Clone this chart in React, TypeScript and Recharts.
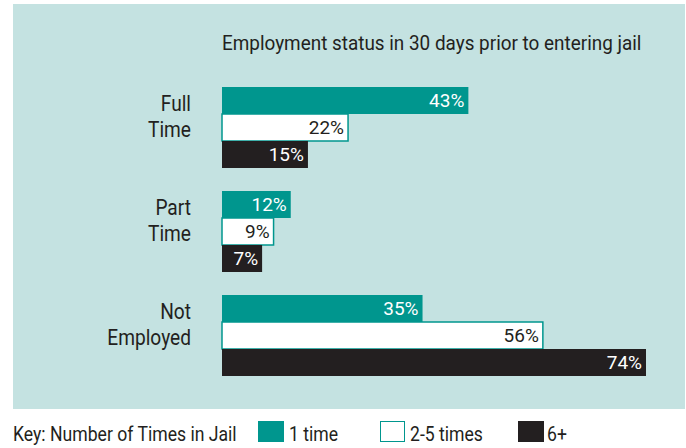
import React from "react";
import { BarChart, Bar, XAxis, YAxis, LabelList } from "recharts";

const categories = ["Full Time", "Part Time", "Not Employed"];
const oneTime = [43, 12, 35];
const twoToFive = [22, 9, 56];
const sixPlus = [15, 7, 74];
const seriesNames = ["1 time", "2-5 times", "6+"];
const title = "Employment status in 30 days prior to entering jail";
const keyLabel = "Key: Number of Times in Jail";

const TEAL = "#00968e";
const BLACK = "#231f20";
const BG = "#c4e2e1";
const TEXT = "#231f20";
const FONT = "'Liberation Sans Narrow', 'Arial Narrow', 'Roboto', sans-serif";

const data = categories.map((c, i) => ({
  name: c,
  a: oneTime[i],
  b: twoToFive[i],
  c: sixPlus[i],
}));

const CatTick = (props: any) => {
  const { x, y, payload } = props;
  const words = String(payload.value).split(" ");
  return (
    <text
      x={x}
      y={y - 16}
      textAnchor="end"
      fill={TEXT}
      transform={`translate(${x},0) scale(0.87,1) translate(${-x},0)`}
      style={{ fontFamily: FONT, fontSize: 22 }}
    >
      {words.map((w, i) => (
        <tspan key={i} x={x} dy={i === 0 ? 0 : 26}>
          {w}
        </tspan>
      ))}
    </text>
  );
};

const legendSwatch = [
  { left: 258, w: 26, bg: TEAL, border: "none", textLeft: 289 },
  { left: 380, w: 25, bg: "#fff", border: `1.5px solid ${TEAL}`, textLeft: 410 },
  { left: 518, w: 26, bg: BLACK, border: "none", textLeft: 547 },
];

const textStyle: React.CSSProperties = {
  position: "absolute",
  fontFamily: FONT,
  fontSize: 20,
  lineHeight: "20px",
  color: TEXT,
  whiteSpace: "nowrap",
  transform: "scaleX(0.88)",
  transformOrigin: "left center",
};

export default function App() {
  return (
    <div
      style={{
        position: "absolute",
        left: 0,
        top: 0,
        width: 686,
        height: 448,
        background: "#fff",
        overflow: "hidden",
      }}
    >
      <div
        style={{
          position: "absolute",
          left: 13,
          top: 4,
          width: 672,
          height: 405,
          background: BG,
        }}
      />
      <div
        style={{
          position: "absolute",
          left: 222,
          top: 31,
          fontFamily: FONT,
          fontSize: 21,
          color: TEXT,
          lineHeight: "24px",
          whiteSpace: "nowrap",
          transform: "scaleX(0.9)",
          transformOrigin: "left center",
        }}
      >
        {title}
      </div>
      <div style={{ position: "absolute", left: 0, top: 0 }}>
        <BarChart
          width={686}
          height={448}
          data={data}
          layout="vertical"
          margin={{ top: 75, right: 40, bottom: 61, left: 0 }}
          barGap={0}
          barSize={27}
        >
          <XAxis type="number" domain={[0, 74]} hide />
          <YAxis
            type="category"
            dataKey="name"
            width={222}
            axisLine={false}
            tickLine={false}
            tickSize={0}
            tickMargin={31}
            tick={<CatTick />}
            interval={0}
          />
          <Bar dataKey="a" name={seriesNames[0]} fill={TEAL} isAnimationActive={false}>
            <LabelList
              dataKey="a"
              position="insideRight"
              offset={4}
              formatter={(v: any) => `${v}%`}
              fill="#fff"
              style={{ fontFamily: FONT, fontSize: 19 }}
            />
          </Bar>
          <Bar
            dataKey="b"
            name={seriesNames[1]}
            fill="#fff"
            stroke={TEAL}
            strokeWidth={1.5}
            isAnimationActive={false}
          >
            <LabelList
              dataKey="b"
              position="insideRight"
              offset={4}
              formatter={(v: any) => `${v}%`}
              fill={TEXT}
              style={{ fontFamily: FONT, fontSize: 19 }}
            />
          </Bar>
          <Bar dataKey="c" name={seriesNames[2]} fill={BLACK} isAnimationActive={false}>
            <LabelList
              dataKey="c"
              position="insideRight"
              offset={4}
              formatter={(v: any) => `${v}%`}
              fill="#fff"
              style={{ fontFamily: FONT, fontSize: 19 }}
            />
          </Bar>
        </BarChart>
      </div>
      <div style={{ ...textStyle, left: 13, top: 424 }}>{keyLabel}</div>
      {seriesNames.map((n, i) => (
        <React.Fragment key={n}>
          <div
            style={{
              position: "absolute",
              left: legendSwatch[i].left,
              top: 421,
              width: legendSwatch[i].w,
              height: 21,
              boxSizing: "border-box",
              background: legendSwatch[i].bg,
              border: legendSwatch[i].border,
            }}
          />
          <div style={{ ...textStyle, left: legendSwatch[i].textLeft, top: 424 }}>{n}</div>
        </React.Fragment>
      ))}
    </div>
  );
}
